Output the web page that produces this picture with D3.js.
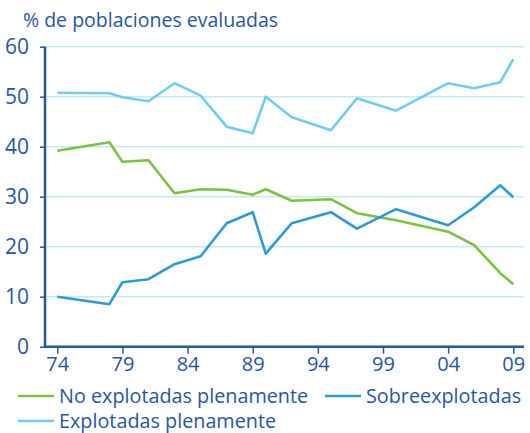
<!DOCTYPE html>
<html>
<head>
<meta charset="utf-8">
<script src="https://cdn.jsdelivr.net/npm/d3@7"></script>
<style>
  html, body { margin: 0; padding: 0; background: #fff; }
  svg { display: block; }
  text { font-family: "Open Sans", "Noto Sans", sans-serif; fill: #2756a5; }
</style>
</head>
<body>
<svg id="chart" width="530" height="433"></svg>
<script>
// Years of assessment (1974–2009)
const years = [1974, 1978, 1979, 1981, 1983, 1985, 1987, 1989, 1990, 1992, 1995, 1997, 2000, 2004, 2006, 2008, 2009];
// Share of assessed stocks, %
const noPlenas = [39.2, 40.9, 37.0, 37.3, 30.7, 31.5, 31.4, 30.4, 31.5, 29.2, 29.5, 26.7, 25.3, 23.0, 20.3, 14.7, 12.5];
const sobre    = [10.0, 8.5, 12.9, 13.5, 16.5, 18.1, 24.7, 26.9, 18.6, 24.7, 26.9, 23.6, 27.5, 24.3, 27.9, 32.3, 29.9];
const plenas   = [50.8, 50.7, 49.9, 49.1, 52.7, 50.2, 44.0, 42.7, 50.0, 45.9, 43.3, 49.7, 47.2, 52.7, 51.7, 52.9, 57.5];
const xTicks = [1974, 1979, 1984, 1989, 1994, 1999, 2004, 2009];
const yTicks = [0, 10, 20, 30, 40, 50, 60];
const seriesNames = ["No explotadas plenamente", "Sobreexplotadas", "Explotadas plenamente"];
const seriesColors = ["#7cc242", "#2a9bd8", "#6fcdf4"];

const svg = d3.select("#chart");
const axisColor = "#2757a3";
const gridColor = "#c8e8f6";

const x = d3.scaleLinear().domain([1974, 2009]).range([57.3, 513.3]);
const y = d3.scaleLinear().domain([0, 60]).range([346.7, 46.7]);
const left = 45, right = 524;

// Title
svg.append("text").attr("x", 23).attr("y", 27).attr("font-size", 19.5)
  .text("% de poblaciones evaluadas");

// Horizontal gridlines
svg.append("g").selectAll("line").data(yTicks.filter(d => d > 0)).join("line")
  .attr("x1", left).attr("x2", right)
  .attr("y1", d => y(d)).attr("y2", d => y(d))
  .attr("stroke", gridColor).attr("stroke-width", 1.5);

// Y axis
const yAxis = svg.append("g").attr("transform", `translate(${left},0)`)
  .call(d3.axisLeft(y).tickValues(yTicks).tickSize(5).tickPadding(11).tickFormat(d3.format("d")));
yAxis.select(".domain").remove();
yAxis.selectAll(".tick line").attr("stroke", axisColor).attr("stroke-width", 1.5);
yAxis.selectAll(".tick text").attr("font-size", 21).attr("fill", axisColor)
  .attr("font-family", "'Open Sans', sans-serif").attr("dy", "0.34em");
svg.append("line").attr("x1", left).attr("x2", left).attr("y1", y(60)).attr("y2", y(0) + 1)
  .attr("stroke", axisColor).attr("stroke-width", 2.5);

// X axis
const xAxis = svg.append("g").attr("transform", `translate(0,${y(0)})`)
  .call(d3.axisBottom(x).tickValues(xTicks).tickSize(7).tickPadding(3)
    .tickFormat(d => String(d % 100).padStart(2, "0")));
xAxis.select(".domain").remove();
xAxis.selectAll(".tick line").attr("stroke", axisColor).attr("stroke-width", 1.5);
xAxis.selectAll(".tick text").attr("font-size", 20).attr("fill", axisColor)
  .attr("font-family", "'Open Sans', sans-serif");
svg.append("line").attr("x1", left - 1).attr("x2", right).attr("y1", y(0)).attr("y2", y(0))
  .attr("stroke", axisColor).attr("stroke-width", 2.5);

// Series lines
const line = d3.line().x((d, i) => x(years[i])).y(d => y(d));
[noPlenas, sobre, plenas].forEach((vals, k) => {
  svg.append("path").datum(vals).attr("d", line)
    .attr("fill", "none").attr("stroke", seriesColors[k]).attr("stroke-width", 2.6)
    .attr("stroke-linejoin", "round");
});

// Legend
const legendPos = [[18, 396], [325, 396], [18, 421]];
seriesNames.forEach((name, k) => {
  const [lx, ly] = legendPos[k];
  svg.append("line").attr("x1", lx).attr("x2", lx + 36).attr("y1", ly).attr("y2", ly)
    .attr("stroke", seriesColors[k]).attr("stroke-width", 2.6);
  svg.append("text").attr("x", lx + 41).attr("y", ly).attr("dy", "0.35em")
    .attr("font-size", 19.8).text(name);
});
</script>
</body>
</html>
